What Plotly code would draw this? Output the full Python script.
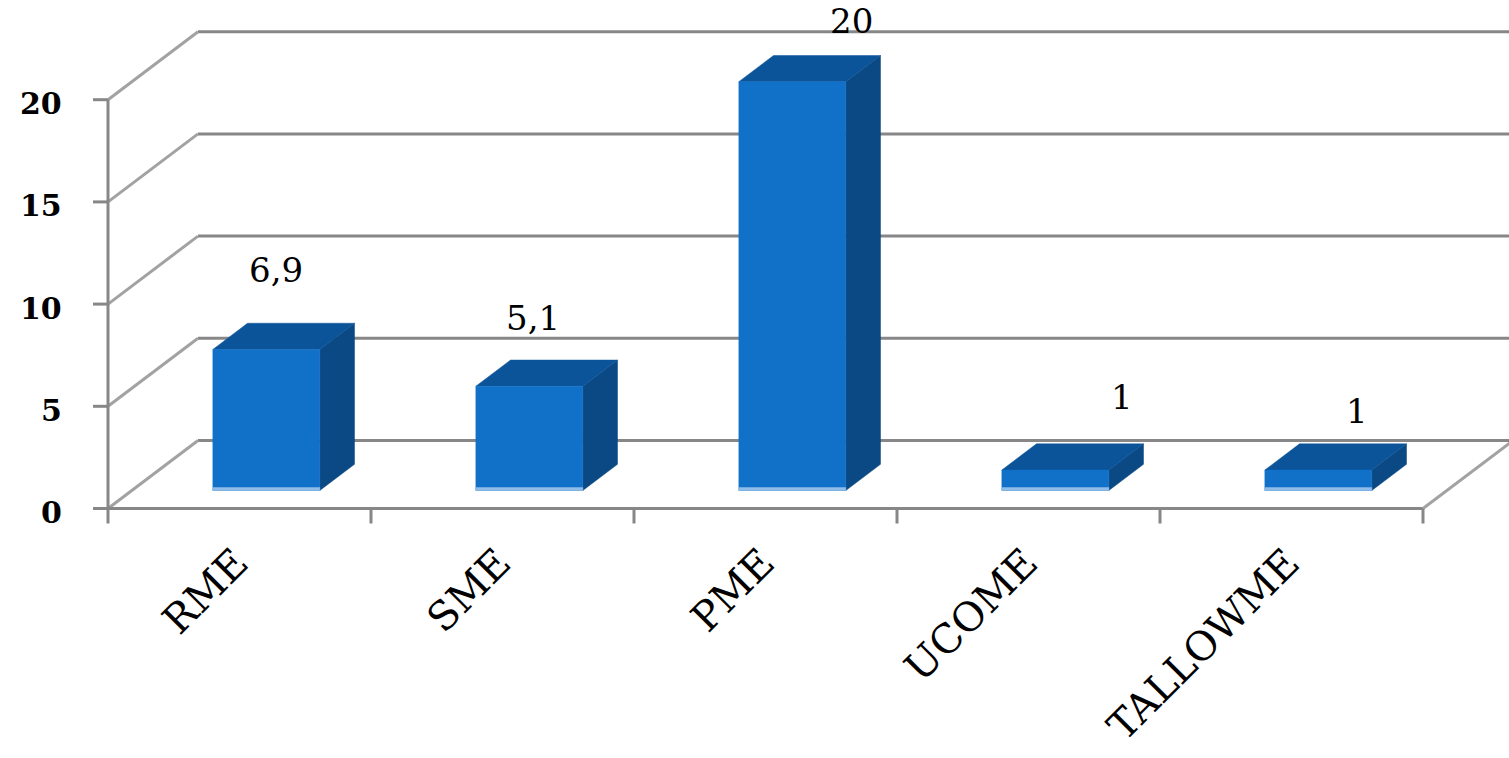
import plotly.graph_objects as go

# ---------------- data ----------------
categories = ["RME", "SME", "PME", "UCOME", "TALLOWME"]
values = [6.9, 5.1, 20, 1, 1]
value_labels = ["6,9", "5,1", "20", "1", "1"]
y_ticks = [0, 5, 10, 15, 20]
y_tick_labels = ["0", "5", "10", "15", "20"]

# ---------------- style / geometry ----------------
W, H = 1509, 758
PX0, PY0 = 108, 508.5          # pixel of front-axis origin
CAT_PX = 263                   # pixels per category
UNIT_PX = 20.44                # pixels per value unit
DEPTH_PX = (90, 68)            # oblique depth offset of back wall (px)
BAR_W_PX = 107
BAR_SHIFT_PX = 3
D_FRONT, D_BACK = 0.265, 0.65  # bar depth position (fraction of floor depth)
label_nudge_px = [(-25, -53), (-31, -42), (24, -35), (32, -47), (4, -33)]

C_FRONT = "#1170C8"
C_TOP = "#0C5499"
C_SIDE = "#0A4983"
C_STRIP = "#8FBCE8"
C_GRID = "#878787"
C_DIAG = "#A2A2A2"
NUM_FONT = dict(family="DejaVu Serif", size=34, color="black")
TICK_FONT = dict(family="DejaVu Serif", size=30, color="black", weight="bold")
CAT_FONT = dict(family="DejaVu Serif", size=40, color="black")

xr = [-PX0 / CAT_PX, (W - PX0) / CAT_PX]
yr = [(PY0 - H) / UNIT_PX, PY0 / UNIT_PX]
DX = DEPTH_PX[0] / CAT_PX
DY = DEPTH_PX[1] / UNIT_PX


def px_x(p):
    return p / CAT_PX


def px_y(p):
    return p / UNIT_PX


def P(x, v, d=0.0):
    return (x + d * DX, v + d * DY)


def line(p0, p1, color, width):
    return dict(type="line", xref="x", yref="y", x0=p0[0], y0=p0[1],
                x1=p1[0], y1=p1[1], line=dict(color=color, width=width),
                layer="below")


n = len(categories)
shapes = []
# back wall gridlines, left wall diagonals, y ticks
for t in y_ticks:
    shapes.append(line(P(0, t, 1), P(n + 1, t, 1), C_GRID, 3))
    shapes.append(line(P(0, t, 0), P(0, t, 1), C_DIAG, 3))
    shapes.append(line((-px_x(15), t), (0, t), C_GRID, 3))
# front value axis
shapes.append(line((0, y_ticks[0]), (0, y_ticks[-1]), C_GRID, 3))
# front floor edge and right floor edge
shapes.append(line((0, 0), (n, 0), C_GRID, 3))
shapes.append(line(P(n, 0, 0), P(n, 0, 1), C_DIAG, 3))
# category ticks
for i in range(n + 1):
    shapes.append(line((i, 0), (i, -px_y(15)), C_GRID, 3))

fig = go.Figure()


def poly(pts, color):
    xs = [p[0] for p in pts] + [pts[0][0]]
    ys = [p[1] for p in pts] + [pts[0][1]]
    fig.add_trace(go.Scatter(x=xs, y=ys, mode="lines", fill="toself",
                             fillcolor=color, line=dict(color=color, width=0.5),
                             hoverinfo="skip", showlegend=False))


hw = px_x(BAR_W_PX) / 2
annotations = []
for i, (cat, v, lab) in enumerate(zip(categories, values, value_labels)):
    c = i + 0.5 + px_x(BAR_SHIFT_PX)
    x0, x1 = c - hw, c + hw
    side = [P(x1, 0, D_FRONT), P(x1, 0, D_BACK), P(x1, v, D_BACK), P(x1, v, D_FRONT)]
    top = [P(x0, v, D_FRONT), P(x1, v, D_FRONT), P(x1, v, D_BACK), P(x0, v, D_BACK)]
    front = [P(x0, 0, D_FRONT), P(x1, 0, D_FRONT), P(x1, v, D_FRONT), P(x0, v, D_FRONT)]
    poly(side, C_SIDE)
    poly(top, C_TOP)
    poly(front, C_FRONT)
    # light floor-reflection strip
    strip = [P(x0, 0, D_FRONT), P(x1, 0, D_FRONT), P(x1, px_y(3), D_FRONT), P(x0, px_y(3), D_FRONT)]
    poly(strip, C_STRIP)

    lx, ly = P(c, v, D_BACK)
    nx, ny = label_nudge_px[i]
    annotations.append(dict(x=lx + px_x(nx), y=ly - px_y(ny), text=lab,
                            showarrow=False, xanchor="center", yanchor="middle",
                            font=NUM_FONT))
    annotations.append(dict(x=i + 0.5 + px_x(20), y=-px_y(28), text=cat,
                            showarrow=False, textangle=-45,
                            xanchor="right", yanchor="top", font=CAT_FONT))

for t, tl in zip(y_ticks, y_tick_labels):
    annotations.append(dict(x=-px_x(44), y=t - px_y(4), text=tl, showarrow=False,
                            xanchor="right", yanchor="middle", font=TICK_FONT))

fig.update_layout(
    width=W, height=H,
    margin=dict(l=0, r=0, t=0, b=0),
    paper_bgcolor="white", plot_bgcolor="white",
    xaxis=dict(range=xr, visible=False, fixedrange=True),
    yaxis=dict(range=yr, visible=False, fixedrange=True),
    shapes=shapes,
    annotations=annotations,
    showlegend=False,
)

fig.write_html("out.html", config={"displayModeBar": False})
